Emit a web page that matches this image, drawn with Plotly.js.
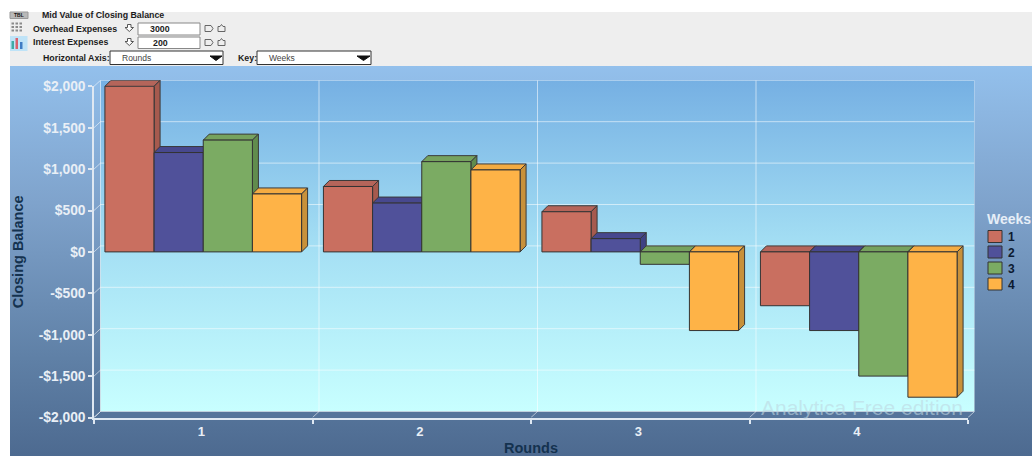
<!DOCTYPE html>
<html>
<head>
<meta charset="utf-8">
<script src="https://cdn.plot.ly/plotly-3.0.1.min.js"></script>
<style>
  html, body { margin: 0; padding: 0; background: #fff; overflow: hidden; }
  #stage { position: relative; width: 1032px; height: 456px; }
  #panel { position: absolute; left: 10px; top: 66px; right: 0; bottom: 0;
           background: linear-gradient(180deg, #93c0ec 0%, #7fa3cc 35%, #5f80a6 75%, #4d6a90 100%); }
  #toolbar { position: absolute; left: 10px; top: 12px; right: 0; height: 54px; background: #eeeeee; }
  #chart { position: absolute; left: 0; top: 0; width: 1032px; height: 456px; }
</style>
</head>
<body>
<div id="stage">
  <div id="panel"></div>
  <div id="toolbar"></div>
  <div id="chart"></div>
</div>
<script>
// Closing balance per round, one list per week
const rounds = ['1', '2', '3', '4'];
const week1 = [2000, 790, 485, -650];
const week2 = [1200, 590, 160, -950];
const week3 = [1350, 1090, -150, -1500];
const week4 = [700, 990, -950, -1755];
const weekNames = ['1', '2', '3', '4'];
const frontColors = ['#c96f60', '#50519a', '#7bab63', '#feb347'];
const topColors = ['#b5655a', '#47488e', '#76a25e', '#f4ab42'];
const sideColors = ['#a65a4e', '#3f4183', '#618c4d', '#c8913a'];
const yTickValues = [2000, 1500, 1000, 500, 0, -500, -1000, -1500, -2000];
const yTickLabels = ['$2,000', '$1,500', '$1,000', '$500', '$0', '-$500', '-$1,000', '-$1,500', '-$2,000'];

// Page geometry in pixels
const W = 1032, H = 456;
const px = x => x / W;
const py = y => 1 - y / H;
const plotLeft = 94, plotRight = 968, plotTop = 86.3, plotBottom = 417.5;
const depthPxX = 6.5, depthPxY = 6;
const xUnit = (plotRight - plotLeft) / 4;
const yUnit = (plotBottom - plotTop) / 4000;

// Extrusion depth of the bars and of the chart box, in data units
const barDx = 6 / xUnit, barDy = 6 / yUnit;
const wallDx = depthPxX / xUnit, wallDy = depthPxY / yUnit;
const barWidth = 0.225;

const FONT = '"Liberation Sans", Arial, sans-serif';
const series = [week1, week2, week3, week4];
const traces = [];
const depthTrace = extra => Object.assign({
  type: 'scatter', mode: 'lines', xaxis: 'x', yaxis: 'y', hoverinfo: 'skip',
  showlegend: false, cliponaxis: false
}, extra);

// Back wall with its vertical colour ramp
traces.push(depthTrace({
  x: [0.5 + wallDx, 4.5 + wallDx, 4.5 + wallDx, 0.5 + wallDx, 0.5 + wallDx],
  y: [-2000 + wallDy, -2000 + wallDy, 2000 + wallDy, 2000 + wallDy, -2000 + wallDy],
  fill: 'toself', line: { width: 0 },
  fillgradient: { type: 'vertical',
    colorscale: [[0, '#c8ffff'], [0.5, '#a4dff4'], [1, '#76b0e3']] }
}));

// Floor of the chart box
traces.push(depthTrace({
  x: [0.5, 4.5, 4.5 + wallDx, 0.5 + wallDx, 0.5],
  y: [-2000, -2000, -2000 + wallDy, -2000 + wallDy, -2000],
  fill: 'toself', fillcolor: '#55749b', line: { width: 0 }
}));

// Grid on the walls
const gridX = [], gridY = [];
yTickValues.forEach(v => {
  gridX.push(0.5, 0.5 + wallDx, 4.5 + wallDx, null);
  gridY.push(v, v + wallDy, v + wallDy, null);
});
[0.5, 1.5, 2.5, 3.5, 4.5].forEach(c => {
  gridX.push(c, c + wallDx, c + wallDx, null);
  gridY.push(-2000, -2000 + wallDy, 2000 + wallDy, null);
});
traces.push(depthTrace({ x: gridX, y: gridY, line: { color: 'rgba(255,255,255,0.55)', width: 1 } }));

// Top and side faces of each bar, under the front faces
series.forEach((values, k) => {
  const tx = [], ty = [], sx = [], sy = [];
  values.forEach((v, i) => {
    const l = i + 1 - 0.45 + k * barWidth, r = l + barWidth;
    const t = Math.max(v, 0), b = Math.min(v, 0);
    tx.push(l, r, r + barDx, l + barDx, l, null);
    ty.push(t, t, t + barDy, t + barDy, t, null);
    sx.push(r, r + barDx, r + barDx, r, r, null);
    sy.push(t, t + barDy, b + barDy, b, t, null);
  });
  const face = (x, y, color) => depthTrace({
    x, y, fill: 'toself', fillcolor: color, line: { color: '#3a3a3a', width: 1 }
  });
  traces.push(face(tx, ty, topColors[k]));
  traces.push(face(sx, sy, sideColors[k]));
});

// Front faces of the bars
series.forEach((values, k) => {
  traces.push({
    type: 'bar', xaxis: 'x2', yaxis: 'y2', name: weekNames[k], showlegend: false,
    x: rounds, y: values,
    marker: { color: frontColors[k], line: { color: '#333333', width: 1 } }
  });
});

// Legend swatches and labels
const shapes = [];
const annotations = [];
const legendRows = [236.5, 252, 268, 284];
weekNames.forEach((name, k) => {
  shapes.push({ type: 'rect', xref: 'paper', yref: 'paper',
    x0: px(988), x1: px(1002), y0: py(legendRows[k] - 6), y1: py(legendRows[k] + 6),
    fillcolor: frontColors[k], line: { color: '#333333', width: 1 } });
  annotations.push({ xref: 'paper', yref: 'paper', x: px(1006), y: py(legendRows[k] + 0.5),
    xanchor: 'left', yanchor: 'middle', showarrow: false, text: name,
    font: { family: FONT, size: 12, color: '#0c1a30', weight: 'bold' } });
});
annotations.push({ xref: 'paper', yref: 'paper', x: px(985), y: py(219),
  xanchor: 'left', yanchor: 'middle', showarrow: false, text: 'Weeks',
  font: { family: FONT, size: 14, color: '#e6eef7', weight: 'bold' } });

// Edition mark on the wall
annotations.push({ xref: 'paper', yref: 'paper', x: px(862), y: py(407),
  xanchor: 'center', yanchor: 'middle', showarrow: false, text: 'Analytica Free edition',
  font: { family: FONT, size: 21, color: 'rgba(190,215,225,0.6)' } });

// Control strip above the chart
const label = (text, x, y, opts = {}) => annotations.push({
  xref: 'paper', yref: 'paper', x: px(x), y: py(y), xanchor: opts.anchor || 'left', yanchor: 'middle',
  showarrow: false, text,
  font: { family: FONT, size: opts.size || 8.8, color: opts.color || '#1c1c1c', weight: opts.plain ? 'normal' : 'bold' }
});
const box = (x0, y0, x1, y1, fill, stroke, width = 1) => shapes.push({
  type: 'rect', xref: 'paper', yref: 'paper', x0: px(x0), x1: px(x1), y0: py(y0), y1: py(y1),
  fillcolor: fill, line: { color: stroke, width: stroke === 'none' ? 0 : width }
});
const poly = (pts, fill, stroke) => shapes.push({
  type: 'path', xref: 'paper', yref: 'paper',
  path: 'M' + pts.map(p => px(p[0]) + ',' + py(p[1])).join('L') + 'Z',
  fillcolor: fill, line: { color: stroke || fill, width: 1 }
});

label('Mid Value of Closing Balance', 40, 15.5);
label('Overhead Expenses', 31, 28.5);
label('Interest Expenses', 31, 42.5);
label('Horizontal Axis:', 41, 57.5);
label('Key:', 236, 57.5);
box(138, 23, 200, 35, '#ffffff', '#888888');
box(138, 37, 200, 48.5, '#ffffff', '#888888');
label('3000', 160, 29, { anchor: 'center' });
label('200', 160, 43, { anchor: 'center' });
box(110, 51, 223, 64.5, '#ffffff', '#333333', 1);
box(257, 51, 371, 64.5, '#ffffff', '#333333', 1);
label('Rounds', 120, 57.5, { plain: true, color: '#444444', size: 8.5 });
label('Weeks', 267, 57.5, { plain: true, color: '#444444', size: 8.5 });
poly([[210, 56], [222, 56], [216, 60.5]], '#111111');
poly([[357, 56], [370, 56], [363.5, 60.5]], '#111111');

// Stepper arrows beside the two inputs
[28.5, 42.5].forEach(y => {
  poly([[125, y - 1], [127.5, y - 1], [127.5, y - 4], [131, y - 4], [131, y - 1], [133.5, y - 1], [129.3, y + 3]], '#ffffff', '#555555');
  poly([[205, y - 3], [211, y - 3], [213, y], [211, y + 3], [205, y + 3]], '#eeeeee', '#666666');
  poly([[218, y - 2], [220, y - 2], [221.5, y - 4], [223, y - 2], [225, y - 2], [225, y + 3], [218, y + 3]], '#eeeeee', '#666666');
});

// View-mode icons at the left of the strip
box(10, 12, 28, 18.5, '#b9b9b9', '#999999');
label('TBL', 12, 15, { size: 5, color: '#111111' });
for (let r = 0; r < 3; r++) {
  for (let c = 0; c < 3; c++) {
    box(11.5 + c * 4, 22.5 + r * 3.5, 14 + c * 4, 24.5 + r * 3.5, '#8a8a8a', 'none');
  }
}
box(10, 36, 27.5, 51, '#bfe3f7', 'none');
box(11.5, 41, 14, 49, '#3fa9a5', 'none');
box(15.5, 38, 18, 49, '#d9606a', 'none');
box(20, 42, 22.5, 49, '#3f7cc4', 'none');

const tickFont = { family: FONT, size: 13.8, color: '#e9eff6', weight: 'bold' };
const titleFont = { family: FONT, size: 14.5, color: '#14324f', weight: 'bold' };

const layout = {
  width: W, height: H,
  margin: { l: 0, r: 0, t: 0, b: 0, pad: 0 },
  paper_bgcolor: 'rgba(0,0,0,0)', plot_bgcolor: 'rgba(0,0,0,0)',
  showlegend: false,
  barmode: 'group', bargap: 0.1, bargroupgap: 0,
  // First subplot reaches past the front plane so the extruded faces stay inside it
  xaxis: {
    domain: [px(plotLeft), px(plotRight + depthPxX)], range: [0.5, 4.5 + wallDx],
    visible: false, fixedrange: true
  },
  yaxis: {
    domain: [py(plotBottom), py(plotTop - depthPxY)], range: [-2000, 2000 + wallDy],
    visible: false, fixedrange: true
  },
  // Second subplot, painted later, carries the bars, ticks and titles
  xaxis2: {
    domain: [px(plotLeft), px(plotRight)], anchor: 'y2', type: 'category',
    categoryorder: 'array', categoryarray: rounds, range: [-0.5, 3.5],
    tickson: 'boundaries', ticks: 'outside', ticklen: 4, tickwidth: 1.5, tickcolor: '#dfe8f2',
    tickfont: { family: FONT, size: 13, color: '#e9eff6', weight: 'bold' },
    ticklabelshift: -2, ticklabelstandoff: 1,
    showgrid: false, zeroline: false, showline: true, linecolor: '#dfe8f2', linewidth: 2,
    fixedrange: true, automargin: false,
    title: { text: 'Rounds', font: titleFont, standoff: 13 }
  },
  yaxis2: {
    domain: [py(plotBottom), py(plotTop)], anchor: 'x2', range: [-2000, 2000], tickmode: 'array',
    tickvals: yTickValues, ticktext: yTickLabels, tickfont: tickFont,
    ticks: 'outside', ticklen: 4, tickwidth: 1.5, tickcolor: '#dfe8f2',
    showgrid: false, zeroline: false, showline: true, linecolor: '#dfe8f2', linewidth: 1.5,
    fixedrange: true, automargin: false,
    title: { text: 'Closing Balance', font: titleFont, standoff: 12 }
  },
  shapes, annotations,
  font: { family: FONT }
};

Plotly.newPlot('chart', traces, layout, { displayModeBar: false, responsive: false });
</script>
</body>
</html>
